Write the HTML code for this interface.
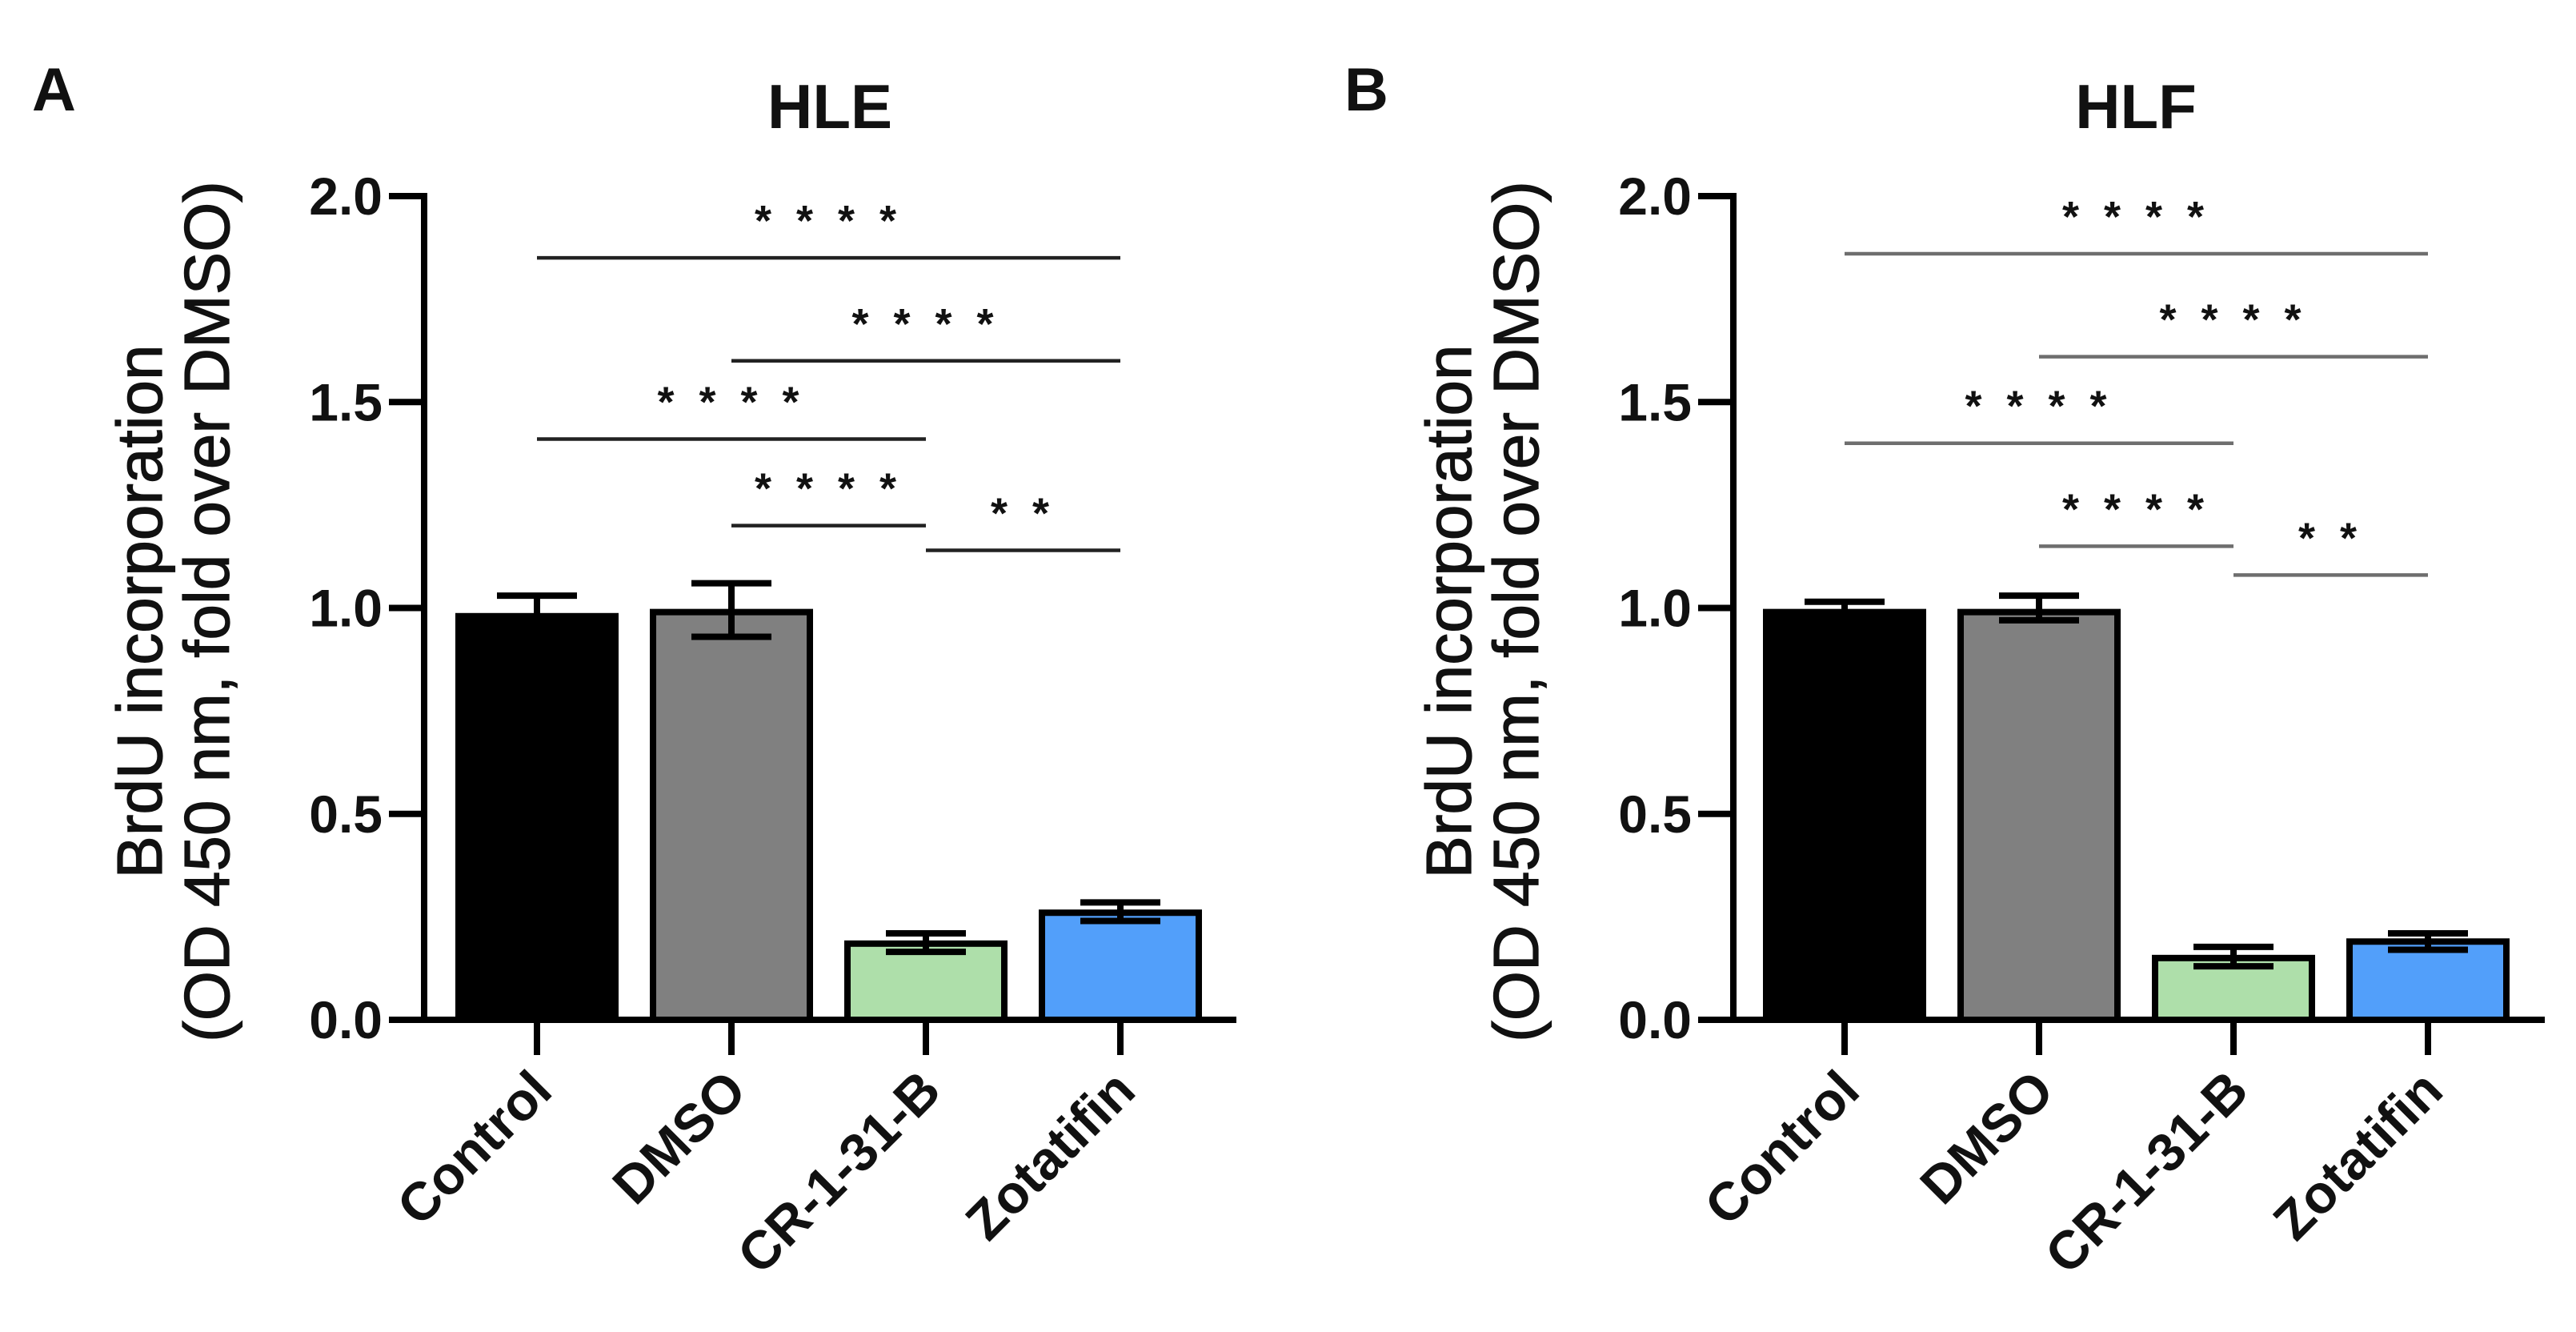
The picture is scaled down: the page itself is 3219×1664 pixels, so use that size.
<!DOCTYPE html>
<html><head><meta charset="utf-8"><style>
html,body{margin:0;padding:0;background:#fff;}
svg{display:block;font-family:"Liberation Sans",Arial,sans-serif;}
</style></head><body>
<svg id="fig" width="3219" height="1664" viewBox="0 0 3219 1664" xmlns="http://www.w3.org/2000/svg"></svg>
<script>
const categories = ["Control","DMSO","CR-1-31-B","Zotatifin"];
const colors = ["#000000","#808080","#aedfaa","#529ffa"];
const hleMeans = [0.98, 0.99, 0.185, 0.26];
const hleErrLow = [0.95, 0.93, 0.165, 0.24];
const hleErrHigh = [1.03, 1.06, 0.21, 0.285];
const hlfMeans = [0.99, 0.99, 0.15, 0.19];
const hlfErrLow = [0.975, 0.97, 0.13, 0.17];
const hlfErrHigh = [1.015, 1.03, 0.177, 0.21];
const yTicks = [0, 0.5, 1.0, 1.5, 2.0];
const yTickLabels = ["0.0","0.5","1.0","1.5","2.0"];
const sigFrom = [0, 1, 0, 1, 2];
const sigTo = [3, 3, 2, 2, 3];
const sigLabels = ["* * * *","* * * *","* * * *","* * * *","* *"];
const hleSigY = [1.85, 1.60, 1.41, 1.20, 1.14];
const hlfSigY = [1.86, 1.61, 1.40, 1.15, 1.08];

const NS = "http://www.w3.org/2000/svg";
const svg = document.getElementById("fig");
function mk(tag, attrs, parent, text){
  const e = document.createElementNS(NS, tag);
  for (const k in attrs) e.setAttribute(k, attrs[k]);
  if (text !== undefined) e.textContent = text;
  (parent||svg).appendChild(e);
  return e;
}

function panel(opt){
  const g = mk("g", {});
  
  
  const axX = opt.axX, y0 = 1274, unit = 514.5;
  const yS = v => y0 - v*unit;
  const xS = i => opt.firstX + i*243;
  const barW = 196;

  const lt = mk("text", {x: opt.letterX, y: 138, "font-size": 76, "font-weight": "bold", fill: "#111"}, g, opt.letter);
  
  
  const tt = mk("text", {x: opt.titleX, y: 160, "font-size": 78, "font-weight": "bold", "text-anchor": "middle", fill: "#111"}, g, opt.title);
  
  

  // y axis title
  const yt = mk("text", {transform: `translate(${opt.axX-328},764) rotate(-90)`, "font-size": 80, "text-anchor": "middle", fill: "#111", stroke: "#111", "stroke-width": 1.2}, g);
  
  
  mk("tspan", {x: 0, y: 0}, yt, "BrdU incorporation");
  mk("tspan", {x: 0, y: 84}, yt, "(OD 450 nm, fold over DMSO)");

  // bars
  for (let i=0;i<categories.length;i++){
    const top = yS(opt.means[i]);
    const b = mk("rect", {x: xS(i)-barW/2, y: top, width: barW, height: y0-top, fill: colors[i], stroke: "#000", "stroke-width": 8}, g);
    
    
    const eg = mk("g", {stroke: "#000", "stroke-width": 8}, g);
    
    
    const cx = xS(i), hi = yS(opt.hi[i]), lo = yS(opt.lo[i]);
    mk("line", {x1: cx, x2: cx, y1: hi, y2: lo}, eg);
    mk("line", {x1: cx-50, x2: cx+50, y1: hi, y2: hi}, eg);
    mk("line", {x1: cx-50, x2: cx+50, y1: lo, y2: lo}, eg);
  }

  // axes
  const ax = mk("g", {stroke: "#000", "stroke-width": 8, fill: "none"}, g);
  
  
  mk("line", {x1: axX, x2: axX, y1: yS(2.0)-4, y2: y0+4}, ax);
  mk("line", {x1: axX-44, x2: opt.axEnd, y1: y0, y2: y0}, ax);
  for (let t=0;t<yTicks.length;t++){
    mk("line", {x1: axX-44, x2: axX, y1: yS(yTicks[t]), y2: yS(yTicks[t])}, ax);
    const lb = mk("text", {x: axX-52, y: yS(yTicks[t])+23, "font-size": 66, "font-weight": "bold", "text-anchor": "end", fill: "#111", stroke: "none"}, g, yTickLabels[t]);
    
    
  }
  for (let i=0;i<categories.length;i++){
    mk("line", {x1: xS(i), x2: xS(i), y1: y0, y2: y0+44}, ax);
    const xl = mk("text", {transform: `translate(${xS(i)+22},${y0+92}) rotate(-45)`, "font-size": 67, "font-weight": "bold", "text-anchor": "end", fill: "#111"}, g, categories[i]);
    
    
  }

  // significance
  for (let s=0;s<sigFrom.length;s++){
    const y = yS(opt.sigY[s]);
    const x1 = xS(sigFrom[s]), x2 = xS(sigTo[s]);
    const l = mk("line", {x1: x1, x2: x2, y1: y, y2: y, stroke: opt.sigColor, "stroke-width": 4.5}, g);
    
    
    const st = mk("text", {x: (x1+x2)/2, y: y-28, "font-size": 54, "font-weight": "bold", "text-anchor": "middle", fill: "#111", "letter-spacing": "8"}, g, sigLabels[s]);
    
    
  }
}

panel({name: "panel-a-hle", letter: "A", letterX: 40, title: "HLE", titleX: 1037, axX: 530, axEnd: 1545, firstX: 671,
  means: hleMeans, lo: hleErrLow, hi: hleErrHigh, sigY: hleSigY, sigColor: "#222"});
panel({name: "panel-b-hlf", letter: "B", letterX: 1680, title: "HLF", titleX: 2669, axX: 2166, axEnd: 3180, firstX: 2305,
  means: hlfMeans, lo: hlfErrLow, hi: hlfErrHigh, sigY: hlfSigY, sigColor: "#6e6e6e"});
</script>
</body></html>
